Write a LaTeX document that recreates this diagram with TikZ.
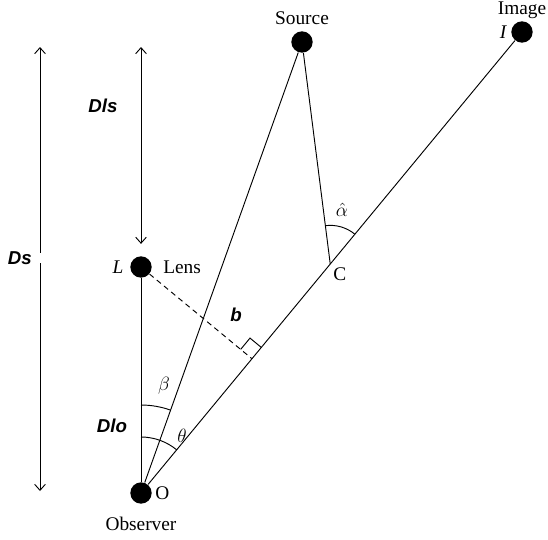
\documentclass[tikz,border=0pt]{standalone}
\usepackage{fontspec}
\setmainfont{Liberation Serif}
\newfontfamily\distfont{Liberation Sans}
\usetikzlibrary{positioning,calc,angles,arrows.meta}

\tikzset{
  dot/.style={circle, fill=black, minimum size=16pt, inner sep=0pt},
  txt/.style={font=\fontsize{14.5}{16}\selectfont, inner sep=1pt},
  dist/.style={font=\distfont\bfseries\itshape\fontsize{14}{16}\selectfont, inner sep=0pt},
  greek/.style={font=\fontsize{14}{16}\selectfont, inner sep=0pt},
  arc/.style={draw, line width=0.7pt}
}

\begin{document}
\begin{tikzpicture}[x=0.75pt, y=-0.75pt, line width=0.7pt,
    >={Straight Barb[length=4.5pt, width=8pt]}]
  \useasboundingbox (0,0) rectangle (548,539);

  % source, image, lens, observer
  \foreach \n/\x/\y in {S/302/42, I/522/32, L/141/267, O/141/493}
    \node[dot] (\n) at (\x,\y) {};

  \coordinate (C) at ($(O)!0.4967!(I)$);
  \coordinate (F) at ($(O)!(L)!(I)$);

  % rays
  \draw (O) -- (I);
  \draw (O) -- (S);
  \draw (S) -- (C);
  \draw (L) -- (O);
  \draw[dash pattern=on 4pt off 3pt] (L) -- (F);

  % right angle at the foot of b
  \coordinate (ra1) at ($(F)!11pt!(I)$);
  \coordinate (ra2) at ($(F)!11pt!(L)$);
  \draw (ra1) -- ($(ra1)+(ra2)-(F)$) -- (ra2);

  % angles
  \pic[arc, angle radius=66pt] {angle=S--O--L};
  \pic[arc, angle radius=42pt] {angle=I--O--L};
  \pic[arc, angle radius=29pt] {angle=I--C--S};
  \node[greek] (beta) at (164,386) {$\beta$};
  \node[greek] (theta) at (182,436) {$\theta$};
  \node[greek] (alpha) at (342,210) {$\hat{\alpha}$};

  % labels
  \node[txt, above=3pt of S] (srclbl) {Source};
  \node[txt, above=0pt of I] (imglbl) {Image};
  \node[txt, left=2pt of I] (ilbl) {\itshape I};
  \node[txt, left=3.5pt of L] (llbl) {\itshape L};
  \node[txt, right=7pt of L] (lenslbl) {Lens};
  \node[txt, right=1pt of O] (olbl) {O};
  \node[txt, below=8pt of O] (obslbl) {Observer};
  \node[txt, below right=1.5pt and 1pt of C] (clbl) {C};

  % distances
  \coordinate (dstop) at (40,47);
  \coordinate (dsbot) at (40,491);
  \node[minimum height=7pt, inner sep=0pt] (dsgap) at (40,258) {};
  \draw[->] (dsgap.north) -- (dstop);
  \draw[->] (dsgap.south) -- (dsbot);
  \node[dist, left=5pt of dsgap] (ds) {Ds};

  \coordinate (dlstop) at (141,47);
  \draw[<->, shorten >=9pt] (dlstop) -- (L);
  \node[dist] (dls) at (103,106) {Dls};
  \node[dist] (dlo) at (112,426) {Dlo};
  \node[dist] (b) at (236,315) {b};
\end{tikzpicture}
\end{document}
